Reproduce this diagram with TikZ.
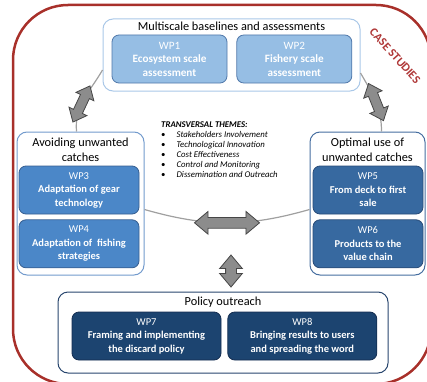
\documentclass[tikz,border=0pt]{standalone}
\usepackage{fontspec}
\setmainfont{Carlito}
\usetikzlibrary{positioning,shapes.arrows}

\definecolor{framered}{RGB}{168,48,42}
\definecolor{casered}{RGB}{175,55,55}
\definecolor{tsbord}{RGB}{170,200,232}
\definecolor{tsfill}{RGB}{150,190,228}
\definecolor{tsdraw}{RGB}{80,120,170}
\definecolor{lfbord}{RGB}{115,155,205}
\definecolor{lffill}{RGB}{75,135,200}
\definecolor{lfdraw}{RGB}{55,95,145}
\definecolor{rtbord}{RGB}{70,110,160}
\definecolor{rtfill}{RGB}{55,105,160}
\definecolor{rtdraw}{RGB}{40,75,120}
\definecolor{btbord}{RGB}{40,70,110}
\definecolor{btfill}{RGB}{28,68,112}
\definecolor{btdraw}{RGB}{20,45,80}
\definecolor{linkgray}{RGB}{160,160,160}
\definecolor{arrowfill}{RGB}{140,140,140}
\definecolor{arrowdraw}{RGB}{70,70,70}

\begin{document}
\begin{tikzpicture}[
    x=1pt, y=1pt,
    grp/.style={draw, rounded corners=10pt, fill=white, line width=1pt, inner sep=0pt},
    grptitle/.style={font=\fontsize{12.3}{15}\selectfont, align=center, inner sep=0pt},
    wp/.style={draw, rounded corners=7pt, line width=0.8pt, text=white, align=center,
               inner sep=0pt, minimum height=48pt, font=\fontsize{10.5}{13.5}\selectfont},
    link/.style={draw=linkgray, line width=1.2pt},
    dblarrow/.style={double arrow, draw=arrowdraw, fill=arrowfill, line width=0.8pt,
                     inner xsep=0pt, inner ysep=4.5pt, double arrow head extend=5pt,
                     double arrow tip angle=80},
    themes/.style={font=\fontsize{8.8}{10}\selectfont, align=left, inner sep=0pt},
]
\useasboundingbox (0,0) rectangle (427,381);

% case studies frame
\node[draw=framered, line width=2.5pt, rounded corners=55pt,
      minimum width=418pt, minimum height=379pt] (frame) at (222,186.5) {};
\node[font=\fontsize{12}{14}\selectfont\bfseries, text=casered, rotate=-48]
    (casestudies) at (395,325) {CASE STUDIES};

% groups
\node[grp, draw=tsbord, minimum width=257pt, minimum height=72pt] (multiscale) at (231.5,326) {};
\node[grptitle] at ([yshift=-8pt]multiscale.north)
    (multiscaletitle) {Multiscale baselines and assessments};

\node[grp, draw=lfbord, minimum width=127pt, minimum height=143pt] (avoiding) at (80.5,177.5) {};
\node[grptitle] at ([yshift=-18.5pt]avoiding.north)
    (avoidingtitle) {Avoiding unwanted\\catches};

\node[grp, draw=rtbord, minimum width=115pt, minimum height=143pt] (optimal) at (367.5,177.5) {};
\node[grptitle] at ([yshift=-18.5pt]optimal.north) (optimaltitle) {Optimal use of\\unwanted catches};

\node[grp, draw=btbord, minimum width=330pt, minimum height=81pt] (policy) at (223,48.5) {};
\node[grptitle] at ([yshift=-11pt]policy.north) (policytitle) {Policy outreach};

% work packages
\node[wp, fill=tsfill, draw=tsdraw, minimum width=115pt, font=\fontsize{11.2}{13.5}\selectfont]
    (wp1) at (169.5,322) {WP1\\\textbf{Ecosystem scale}\\\textbf{assessment}};
\node[wp, fill=tsfill, draw=tsdraw, minimum width=115pt, font=\fontsize{11.2}{13.5}\selectfont,
    right=9pt of wp1] (wp2) {WP2\\\textbf{Fishery scale}\\\textbf{assessment}};

\node[wp, fill=lffill, draw=lfdraw, minimum width=120pt] (wp3) at (79,191)
    {WP3\\\textbf{Adaptation of gear}\\\textbf{technology}};
\node[wp, fill=lffill, draw=lfdraw, minimum width=120pt, below=5pt of wp3] (wp4)
    {WP4\\\textbf{Adaptation of\ \ fishing}\\\textbf{strategies}};

\node[wp, fill=rtfill, draw=rtdraw, minimum width=110pt] (wp5) at (368,191)
    {WP5\\\textbf{From deck to first}\\\textbf{sale}};
\node[wp, fill=rtfill, draw=rtdraw, minimum width=110pt, below=5pt of wp5] (wp6)
    {WP6\\\textbf{Products to the}\\\textbf{value chain}};

\node[wp, fill=btfill, draw=btdraw, minimum width=149pt] (wp7) at (146.5,45)
    {WP7\\\textbf{Framing and implementing}\\\textbf{the discard policy}};
\node[wp, fill=btfill, draw=btdraw, minimum width=149pt, right=6pt of wp7] (wp8)
    {WP8\\\textbf{Bringing results to users}\\\textbf{and spreading the word}};

% transversal themes
\node[themes, anchor=north west] (themes) at (161,261)
    {\begin{tabular}{@{}l@{\hspace{11pt}}l@{}}
     \multicolumn{2}{@{}l}{\bfseries\itshape TRANSVERSAL THEMES:}\\
     \textbullet & \itshape Stakeholders Involvement\\
     \textbullet & \itshape Technological Innovation\\
     \textbullet & \itshape Cost Effectiveness\\
     \textbullet & \itshape Control and Monitoring\\
     \textbullet & \itshape Dissemination and Outreach
     \end{tabular}};

% connectors
\draw[link] ([yshift=-15pt]multiscale.west) to[out=240, in=95]
    node[dblarrow, sloped, pos=0.58, minimum height=40pt] (arrowleft) {}
    ([xshift=-4pt]avoiding.north);
\draw[link] ([yshift=-18pt]multiscale.east) to[out=-60, in=90]
    node[dblarrow, sloped, pos=0.52, minimum height=40pt] (arrowright) {}
    ([xshift=14pt]optimal.north);
\draw[link] ([yshift=-6pt]avoiding.east) to[bend right=16]
    node[dblarrow, sloped, minimum height=65pt, inner ysep=5pt,
         double arrow head extend=6pt] (arrowmid) {}
    ([yshift=-6pt]optimal.west);
\node[dblarrow, rotate=90, minimum height=32pt, inner ysep=5pt,
      double arrow head extend=6pt] (arrowdown) at (231,110) {};
\end{tikzpicture}
\end{document}
